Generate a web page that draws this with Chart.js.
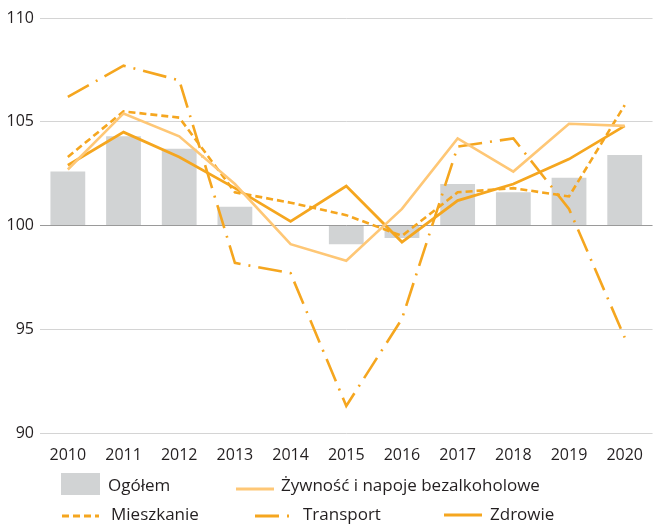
<!DOCTYPE html>
<html>
<head>
<meta charset="utf-8">
<script src="https://cdn.jsdelivr.net/npm/chart.js@4.4.1/dist/chart.umd.min.js"></script>
<style>
  html, body { margin: 0; padding: 0; background: #fff; overflow: hidden; }
  #wrap { width: 656px; height: 525px; }
</style>
</head>
<body>
<div id="wrap"><canvas id="chart" width="656" height="525"></canvas></div>
<script>
// data
var years = ["2010", "2011", "2012", "2013", "2014", "2015", "2016", "2017", "2018", "2019", "2020"];
var ogolem = [102.6, 104.3, 103.7, 100.9, 100.0, 99.1, 99.4, 102.0, 101.6, 102.3, 103.4];
var zywnosc = [102.7, 105.4, 104.3, 102.0, 99.1, 98.3, 100.8, 104.2, 102.6, 104.9, 104.8];
var mieszkanie = [103.3, 105.5, 105.2, 101.6, 101.1, 100.5, 99.5, 101.6, 101.8, 101.4, 105.8];
var transport = [106.2, 107.7, 107.0, 98.2, 97.7, 91.3, 95.5, 103.8, 104.2, 100.8, 94.6];
var zdrowie = [102.9, 104.5, 103.3, 101.8, 100.2, 101.9, 99.2, 101.2, 102.0, 103.2, 104.8];
var yTicks = [90, 95, 100, 105, 110];

var FONT = "'Open Sans', sans-serif";
var TXT = "#231f20";
var ORANGE = "#f5a61f";
var LIGHT = "#fec776";
var GREY = "#d1d3d4";

// legend drawn by hand, two rows like the original
var legendPlugin = {
  id: "rowLegend",
  afterDraw: function (chart) {
    var ctx = chart.ctx;
    var ds = chart.data.datasets;
    ctx.save();
    ctx.font = "17px " + FONT;
    ctx.textBaseline = "middle";

    // Ogółem box
    ctx.fillStyle = GREY;
    ctx.fillRect(61, 473, 39, 22);
    ctx.fillStyle = TXT;
    ctx.fillText(ds[0].label, 108, 486);

    function sample(d, x1, x2, y, tx, ty) {
      ctx.beginPath();
      ctx.strokeStyle = d.borderColor;
      ctx.lineWidth = 3;
      ctx.setLineDash(d.borderDash || []);
      ctx.moveTo(x1, y);
      ctx.lineTo(x2, y);
      ctx.stroke();
      ctx.setLineDash([]);
      ctx.fillStyle = TXT;
      ctx.fillText(d.label, tx, ty);
    }
    sample(ds[1], 236, 274, 489, 281, 486);
    sample(ds[2], 62, 99, 516, 111, 515);
    sample(ds[3], 255, 292, 516, 303, 515);
    sample(ds[4], 444, 482, 515, 490, 515);
    ctx.restore();
  }
};

function lineSet(label, data, color, width, dash) {
  return {
    type: "line",
    label: label,
    data: data,
    borderColor: color,
    backgroundColor: color,
    borderWidth: width,
    borderDash: dash,
    pointRadius: 0,
    tension: 0,
    fill: false,
    order: 1
  };
}

new Chart(document.getElementById("chart"), {
  type: "bar",
  data: {
    labels: years,
    datasets: [
      {
        label: "Ogółem",
        data: ogolem,
        base: 100,
        backgroundColor: GREY,
        borderWidth: 0,
        categoryPercentage: 1,
        barPercentage: 0.625,
        order: 10
      },
      lineSet("Żywność i napoje bezalkoholowe", zywnosc, LIGHT, 2.6, []),
      lineSet("Mieszkanie", mieszkanie, ORANGE, 2.6, [7, 4]),
      lineSet("Transport", transport, ORANGE, 2.6, [24, 8, 2, 8]),
      lineSet("Zdrowie", zdrowie, ORANGE, 2.8, [])
    ]
  },
  options: {
    responsive: false,
    animation: false,
    devicePixelRatio: 1,
    layout: { padding: { top: 18, left: 0, right: 0, bottom: 0 } },
    plugins: {
      legend: { display: false },
      tooltip: { enabled: false }
    },
    scales: {
      x: {
        grid: { display: false, drawTicks: false },
        border: { display: false },
        ticks: { color: TXT, font: { family: FONT, size: 16 }, padding: 13, maxRotation: 0 },
        afterFit: function (axis) { axis.height = 92; }
      },
      y: {
        min: 90,
        max: 110,
        afterBuildTicks: function (axis) {
          axis.ticks = yTicks.map(function (v) { return { value: v }; });
        },
        grid: {
          drawTicks: false,
          color: function (c) { return c.tick && c.tick.value === 100 ? "#9a9a9a" : "#d4d4d4"; },
          lineWidth: 1
        },
        border: { display: false },
        ticks: { color: TXT, font: { family: FONT, size: 16 }, padding: 6 },
        afterFit: function (axis) { axis.width = 40; }
      }
    }
  },
  plugins: [legendPlugin]
});
</script>
</body>
</html>
